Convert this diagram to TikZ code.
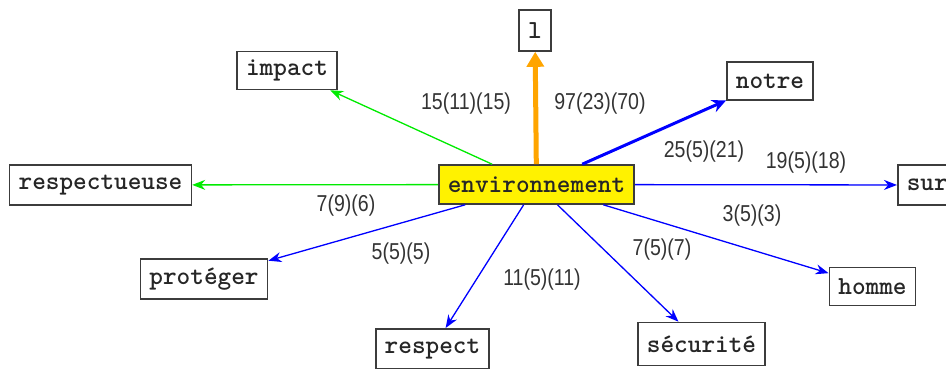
\documentclass[tikz,border=0pt]{standalone}
\usepackage{fontspec}
\usetikzlibrary{arrows.meta}
\newfontfamily\labelfont{Liberation Sans}[FakeStretch=0.85]
\definecolor{edgegreen}{RGB}{0,235,0}
\definecolor{edgeblue}{RGB}{0,0,255}
\definecolor{edgeorange}{RGB}{255,165,0}
\definecolor{boxline}{RGB}{60,60,60}
\tikzset{
  word/.style={draw=boxline, line width=1.6pt, fill=white, minimum height=38pt,
    inner xsep=9pt, inner ysep=0pt,
    font=\fontsize{26}{26}\selectfont\ttfamily\bfseries, text=black!85},
  hub/.style={word, fill=yellow, minimum height=39pt},
  weight/.style={font=\fontsize{23}{23}\selectfont\labelfont, text=black!80},
  link/.style={line width=1.3pt, -{Stealth[length=13pt,width=10pt]}},
  greenlink/.style={link, draw=edgegreen, fill=edgegreen},
  bluelink/.style={link, draw=edgeblue, fill=edgeblue},
}
\begin{document}
\begin{tikzpicture}[x=1pt,y=-1pt]
\useasboundingbox (0,0) rectangle (946,369);

% central term and its neighbours
\node[hub]  (env)  at (536.5,184.5) {environnement};
\node[word, minimum height=41pt] (l) at (535,30.5) {l};
\node[word] (impact) at (287,70.5) {impact};
\node[word] (notre) at (770,81) {notre};
\node[word, minimum height=40pt] (resp) at (100.5,185) {respectueuse};
\node[word, minimum height=40pt, anchor=west] (sur) at (897,185) {sur};
\node[word, minimum height=40pt] (prot) at (204,279) {protéger};
\node[word, minimum height=40pt, anchor=north] (respect) at (432.5,328) {respect};
\node[word, minimum height=43pt] (secu) at (701.5,344) {sécurité};
\node[word] (homme) at (872.5,286.5) {homme};

% connectors
\draw[link, draw=edgeorange, fill=edgeorange, line width=5pt,
      -{Triangle[length=15pt,width=17pt]}] (env) -- (l);
\draw[greenlink] (env) -- (impact);
\draw[bluelink, line width=3pt, -{Stealth[length=14pt,width=13pt]}] (env) -- (notre);
\draw[greenlink] (env) -- (resp);
\draw[bluelink] (env) -- (sur);
\draw[bluelink] (env) -- (prot);
\draw[bluelink] (env) -- (respect);
\draw[bluelink] (env) -- (secu);
\draw[bluelink] (env) -- (homme);

% edge weights
\node[weight] (w1) at (466,104) {15(11)(15)};
\node[weight] (w2) at (600,104) {97(23)(70)};
\node[weight] (w3) at (704,152) {25(5)(21)};
\node[weight] (w4) at (806,163) {19(5)(18)};
\node[weight] (w5) at (346,206) {7(9)(6)};
\node[weight] (w6) at (752,216) {3(5)(3)};
\node[weight] (w7) at (401,254) {5(5)(5)};
\node[weight] (w8) at (662,250) {7(5)(7)};
\node[weight] (w9) at (542,280) {11(5)(11)};
\end{tikzpicture}
\end{document}
